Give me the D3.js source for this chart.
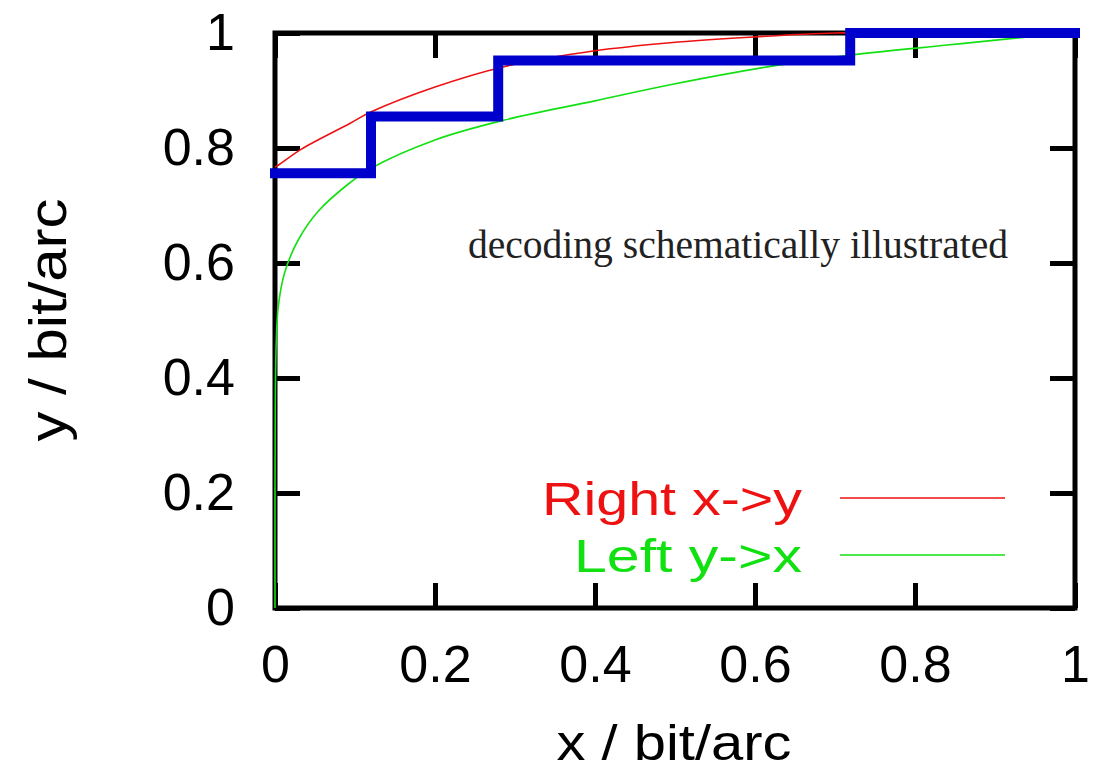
<!DOCTYPE html>
<html>

<head>
    <title>decoding</title>
    <script src="https://cdn.jsdelivr.net/npm/d3@7"></script>
    <style>
        body { margin: 0; background: #fff; }
        text { font-family: "Liberation Sans", Arial, sans-serif; }
    </style>
</head>

<body>
    <svg width="1094" height="772" id="mainsvg"></svg>
    <script>
        // values
        const tickValues = [0, 0.2, 0.4, 0.6, 0.8, 1];
        const tickLabels = ['0', '0.2', '0.4', '0.6', '0.8', '1'];

        // Right x->y (red)
        const redX = [0, 0.004, 0.033, 0.094, 0.119, 0.2, 0.285, 0.4, 0.494, 0.598, 0.7, 0.85, 1];
        const redY = [0.767, 0.77, 0.798, 0.843, 0.862, 0.906, 0.941, 0.969, 0.983, 0.993, 1.0, 1.0, 1.0];

        // Left y->x (green)
        const greenX = [0, 0, 0.0003, 0.0015, 0.004, 0.012, 0.029, 0.054, 0.094, 0.119, 0.2, 0.285, 0.4, 0.494, 0.619, 0.722, 0.84, 0.94, 1];
        const greenY = [0, 0.2, 0.35, 0.46, 0.523, 0.583, 0.64, 0.69, 0.74, 0.764, 0.814, 0.848, 0.882, 0.91, 0.942, 0.962, 0.979, 0.993, 1];

        // decoding staircase (blue)
        const stepX = [0, 0.12, 0.12, 0.279, 0.279, 0.719, 0.719, 1];
        const stepY = [0.756, 0.756, 0.855, 0.855, 0.952, 0.952, 1, 1];

        const seriesNames = ['Right x->y', 'Left y->x'];
        const seriesColors = ['#ee1111', '#11e011'];

        const svg = d3.select('svg');
        const x = d3.scaleLinear().domain([0, 1]).range([275, 1075]);
        const y = d3.scaleLinear().domain([0, 1]).range([608, 33]);
        const fmt = d => tickLabels[tickValues.indexOf(d)];

        // frame
        svg.append('rect')
            .attr('x', x(0)).attr('y', y(1))
            .attr('width', x(1) - x(0)).attr('height', y(0) - y(1))
            .attr('fill', 'none').attr('stroke', 'black').attr('stroke-width', 5);

        const styleAxis = (g, fs) => {
            g.select('.domain').remove();
            g.selectAll('.tick line').attr('stroke', 'black').attr('stroke-width', 5);
            g.selectAll('.tick text').attr('fill', 'black')
                .style('font-size', fs + 'px').style('font-family', '"Liberation Sans", Arial, sans-serif');
        };

        svg.append('g').attr('transform', `translate(0,${y(0)})`)
            .call(d3.axisBottom(x).tickValues(tickValues).tickFormat(fmt).tickSize(-25).tickPadding(37))
            .call(g => styleAxis(g, 52));
        svg.append('g').attr('transform', `translate(0,${y(1)})`)
            .call(d3.axisTop(x).tickValues(tickValues).tickFormat('').tickSize(-25))
            .call(g => styleAxis(g, 52));
        svg.append('g').attr('transform', `translate(${x(0)},0)`)
            .call(d3.axisLeft(y).tickValues(tickValues).tickFormat(fmt).tickSize(-25).tickPadding(40))
            .call(g => styleAxis(g, 52));
        svg.append('g').attr('transform', `translate(${x(1)},0)`)
            .call(d3.axisRight(y).tickValues(tickValues).tickFormat('').tickSize(-25))
            .call(g => styleAxis(g, 52));

        // curves
        const smooth = d3.line().x(d => x(d[0])).y(d => y(d[1])).curve(d3.curveCatmullRom.alpha(0.5));
        svg.append('path').datum(d3.zip(redX, redY))
            .attr('d', smooth).attr('fill', 'none')
            .attr('stroke', seriesColors[0]).attr('stroke-width', 1.6);
        svg.append('path').datum(d3.zip(greenX, greenY))
            .attr('d', smooth).attr('fill', 'none')
            .attr('stroke', seriesColors[1]).attr('stroke-width', 1.6);

        const stepLine = d3.line().x(d => x(d[0])).y(d => y(d[1]));
        svg.append('path').datum(d3.zip(stepX, stepY))
            .attr('d', stepLine).attr('fill', 'none')
            .attr('stroke', '#0000cc').attr('stroke-width', 10)
            .attr('stroke-linejoin', 'miter').attr('stroke-linecap', 'square');

        // annotation
        svg.append('text')
            .attr('x', 468).attr('y', 258)
            .attr('textLength', 540).attr('lengthAdjust', 'spacingAndGlyphs')
            .style('font-family', '"Liberation Serif", "Times New Roman", serif')
            .style('font-size', '40px').attr('fill', '#222')
            .text('decoding schematically illustrated');

        // legend
        const legend = svg.append('g');
        seriesNames.forEach((name, i) => {
            const yy = 498 + i * 57;
            legend.append('text')
                .attr('x', 802).attr('y', yy + 17)
                .attr('text-anchor', 'end')
                .attr('textLength', i === 0 ? 260 : 228).attr('lengthAdjust', 'spacingAndGlyphs')
                .style('font-size', '46px').attr('fill', seriesColors[i])
                .text(name);
            legend.append('line')
                .attr('x1', 840).attr('x2', 1005).attr('y1', yy).attr('y2', yy)
                .attr('stroke', seriesColors[i]).attr('stroke-width', 1.6);
        });

        // axis titles
        svg.append('text')
            .attr('x', 674).attr('y', 760)
            .attr('text-anchor', 'middle')
            .attr('textLength', 235).attr('lengthAdjust', 'spacingAndGlyphs')
            .style('font-size', '50px').attr('fill', 'black')
            .text('x / bit/arc');
        svg.append('text')
            .attr('transform', 'translate(66,320) rotate(-90)')
            .attr('text-anchor', 'middle')
            .attr('textLength', 243).attr('lengthAdjust', 'spacingAndGlyphs')
            .style('font-size', '51px').attr('fill', 'black')
            .text('y / bit/arc');
    </script>
</body>

</html>
